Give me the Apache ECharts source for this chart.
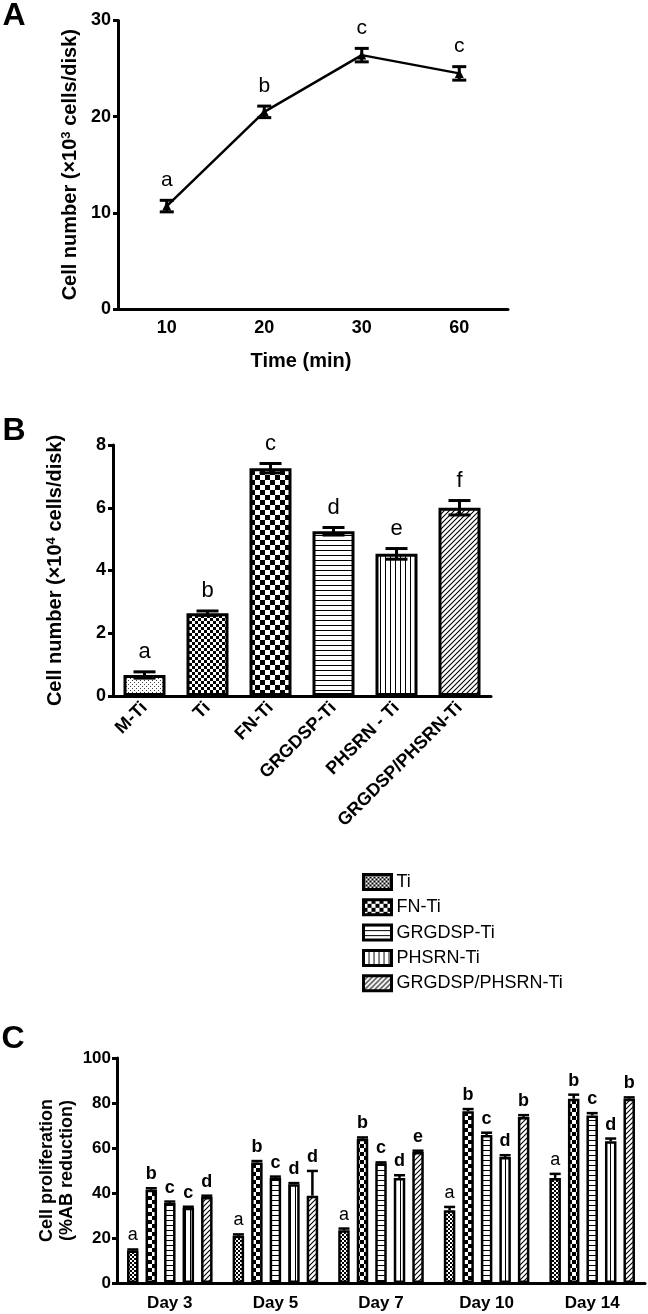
<!DOCTYPE html>
<html><head><meta charset="utf-8">
<script src="https://cdn.jsdelivr.net/npm/echarts@6/dist/echarts.min.js"></script>
<style>html,body{margin:0;padding:0;background:#fff}#divApp{width:648px;height:1314px}</style>
</head><body><div id="divApp"></div>
<script>
// A: attachment vs time
var timeCats = ['10','20','30','60']
var attachVals = [10.7, 20.5, 26.4, 24.5]
var attachErr = [0.6, 0.6, 0.7, 0.7]
var attachLetters = ['a','b','c','c']

// B: attachment per surface
var surfCats = ['M-Ti','Ti','FN-Ti','GRGDSP-Ti','PHSRN - Ti','GRGDSP/PHSRN-Ti']
var surfVals = [0.67, 2.64, 7.26, 5.25, 4.53, 6.0]
var surfErr = [0.1, 0.07, 0.15, 0.12, 0.17, 0.23]
var surfLetters = ['a','b','c','d','e','f']

// C: proliferation per day
var dayCats = ['Day 3','Day 5','Day 7','Day 10','Day 14']
var groupNames = ['Ti','FN-Ti','GRGDSP-Ti','PHSRN-Ti','GRGDSP/PHSRN-Ti']
var profTi = [14.4, 21.0, 23.4, 32.3, 46.7]
var profFN = [41.5, 53.6, 64.1, 76.3, 81.9]
var profGRGDSP = [35.6, 46.8, 53.2, 65.8, 74.5]
var profPHSRN = [33.4, 43.9, 46.7, 56.0, 63.0]
var profBoth = [38.2, 38.8, 58.2, 73.8, 81.9]
var errTi = [0.5, 0.6, 0.8, 1.5, 1.8]
var errFN = [0.6, 0.6, 0.6, 1.0, 1.8]
var errGRGDSP = [0.6, 0.5, 0.4, 1.0, 1.0]
var errPHSRN = [0.5, 0.5, 1.2, 0.8, 1.2]
var errBoth = [0.6, 11.0, 0.6, 0.8, 0.6]
var lettersTi = ['a','a','a','a','a']
var lettersFN = ['b','b','b','b','b']
var lettersGRGDSP = ['c','c','c','c','c']
var lettersPHSRN = ['c','d','d','d','d']
var lettersBoth = ['d','d','e','b','b']

var FONT = "'Liberation Sans', Arial, sans-serif"

//pattern fills
var pat = (w,h,draw)=>{
  var c = document.createElement('canvas'); c.width=w; c.height=h
  var g = c.getContext('2d')
  g.fillStyle='#fff'; g.fillRect(0,0,w,h); g.fillStyle='#000'; g.strokeStyle='#000'
  draw(g)
  return {image:c, repeat:'repeat'}
}
var checker = s=>pat(2*s,2*s,g=>{g.fillRect(0,0,s,s);g.fillRect(s,s,s,s)})
var P_DOTS = pat(4,4,g=>{g.fillStyle='#444';g.fillRect(0,0,1,1);g.fillRect(2,2,1,1)})
var P_FINE = checker(3), P_FINE_C = checker(2)
var P_CHECK = checker(5), P_CHECK_C = checker(4)
var P_HLINE = pat(5,5,g=>g.fillRect(0,0,5,1))
var P_VLINE = pat(5,5,g=>g.fillRect(0,0,1,5))
var P_DIAG = pat(5,5,g=>{g.lineWidth=1.1;g.beginPath();g.moveTo(-1,6);g.lineTo(6,-1);g.moveTo(-1,1);g.lineTo(1,-1);g.moveTo(4,6);g.lineTo(6,4);g.stroke()})

//error bar + letter
var mkErr = (o)=>(params, api)=>{
  var i = params.dataIndex, x0 = api.value(0), v = api.value(1), e = api.value(2)
  var top = api.coord([x0, v+e]), bot = api.coord([x0, o.both ? v-e : v])
  var x = top[0]+(o.dx||0), h = o.cap/2
  var st = {stroke:'#000', lineWidth:o.lw}
  var kids = [
    {type:'line', shape:{x1:x,y1:top[1],x2:x,y2:bot[1]}, style:st},
    {type:'line', shape:{x1:x-h,y1:top[1],x2:x+h,y2:top[1]}, style:st},
    {type:'text', x:x, y:top[1]-o.gap, style:{text:o.letters[i], fill:'#000', font:o.font, align:'center', verticalAlign:'middle'}}
  ]
  if (o.both) kids.push({type:'line', shape:{x1:x-h,y1:bot[1],x2:x+h,y2:bot[1]}, style:st})
  return {type:'group', children:kids}
}
var zip = (a,b)=>a.map((v,i)=>[i,v,b[i]])

var axLine = {lineStyle:{color:'#000', width:3}}
var axTick = {length:5, lineStyle:{color:'#000', width:3}}
var tickLbl = (sz)=>({color:'#000', fontWeight:'bold', fontSize:sz, fontFamily:FONT})
var yName = (sz)=>({color:'#000', fontWeight:'bold', fontSize:sz, fontFamily:FONT, rich:{s:{fontSize:13, fontWeight:'bold', fontFamily:FONT, verticalAlign:'top', padding:[0,0,7,0]}}})

var profSets = [
  [profTi, errTi, lettersTi, P_FINE_C, 'normal'],
  [profFN, errFN, lettersFN, P_CHECK_C, 'bold'],
  [profGRGDSP, errGRGDSP, lettersGRGDSP, P_HLINE, 'bold'],
  [profPHSRN, errPHSRN, lettersPHSRN, P_VLINE, 'bold'],
  [profBoth, errBoth, lettersBoth, P_DIAG, 'bold']
]
var surfFills = [P_DOTS, P_FINE, P_CHECK, P_HLINE, P_VLINE, P_DIAG]

var series = [
  {type:'line', xAxisIndex:0, yAxisIndex:0, data:attachVals, symbol:'triangle', symbolSize:9,
    itemStyle:{color:'#000'}, lineStyle:{color:'#000', width:2.5}, z:3},
  {type:'custom', xAxisIndex:0, yAxisIndex:0, data:zip(attachVals,attachErr), z:4,
    renderItem:mkErr({cap:14, lw:3, both:true, gap:20, letters:attachLetters, font:'21px '+FONT})},
  {type:'bar', xAxisIndex:1, yAxisIndex:1, barWidth:42,
    data:surfVals.map((v,i)=>({value:v, itemStyle:{color:surfFills[i]}})),
    itemStyle:{borderColor:'#000', borderWidth:3}},
  {type:'custom', xAxisIndex:1, yAxisIndex:1, data:zip(surfVals,surfErr), z:4,
    renderItem:mkErr({cap:22, lw:3, both:true, gap:20, letters:surfLetters, font:'22px '+FONT})}
]
profSets.forEach((p,k)=>{
  series.push({type:'bar', name:groupNames[k], xAxisIndex:2, yAxisIndex:2, data:p[0], barWidth:11.5, barGap:'61%',
    itemStyle:{color:p[3], borderColor:'#000', borderWidth:2.5}})
})
profSets.forEach((p,k)=>{
  series.push({type:'custom', xAxisIndex:2, yAxisIndex:2, data:zip(p[0],p[1]), z:4,
    renderItem:mkErr({cap:11, lw:2.5, both:false, dx:(k-2)*18.5, gap:14, letters:p[2], font:p[4]+' 18px '+FONT})})
})

var chart = echarts.init(document.getElementById('divApp'))
chart.setOption({
  animation:false,
  grid:[
    {left:118, top:20.5, width:390, height:288.5},
    {left:113, top:445, width:378, height:251},
    {left:117, top:1058, width:528, height:225}
  ],
  xAxis:[
    {type:'category', gridIndex:0, data:timeCats, axisLine:axLine, axisTick:Object.assign({alignWithLabel:true},axTick),
      axisLabel:Object.assign({margin:10}, tickLbl(18)),
      name:'Time (min)', nameLocation:'middle', nameGap:42,
      nameTextStyle:{color:'#000', fontWeight:'bold', fontSize:20, fontFamily:FONT, padding:[0,24,0,0]}},
    {type:'category', gridIndex:1, data:surfCats, axisLine:axLine, axisTick:Object.assign({alignWithLabel:true},axTick),
      axisLabel:Object.assign({margin:9, rotate:45, interval:0}, tickLbl(18))},
    {type:'category', gridIndex:2, data:dayCats, axisLine:axLine, axisTick:Object.assign({alignWithLabel:true},axTick),
      axisLabel:Object.assign({margin:12, interval:0}, tickLbl(17))}
  ],
  yAxis:[
    {type:'value', gridIndex:0, min:0, max:30, interval:10, axisLine:Object.assign({show:true},axLine), axisTick:Object.assign({show:true},axTick),
      splitLine:{show:false}, axisLabel:Object.assign({margin:7}, tickLbl(18)),
      name:'Cell number (×10{s|3} cells/disk)', nameLocation:'middle', nameRotate:90, nameGap:38, nameTextStyle:yName(20)},
    {type:'value', gridIndex:1, min:0, max:8, interval:2, axisLine:Object.assign({show:true},axLine), axisTick:Object.assign({show:true},axTick),
      splitLine:{show:false}, axisLabel:Object.assign({margin:7}, tickLbl(18)),
      name:'Cell number (×10{s|4} cells/disk)', nameLocation:'middle', nameRotate:90, nameGap:48, nameTextStyle:yName(20)},
    {type:'value', gridIndex:2, min:0, max:100, interval:20, axisLine:Object.assign({show:true},axLine), axisTick:Object.assign({show:true},axTick),
      splitLine:{show:false}, axisLabel:Object.assign({margin:6}, tickLbl(17)),
      name:'Cell proliferation\n(%AB reduction)', nameLocation:'middle', nameRotate:90, nameGap:40, nameMoveOverlap:false,
      nameTextStyle:{color:'#000', fontWeight:'bold', fontSize:18, lineHeight:20, fontFamily:FONT}}
  ],
  legend:{data:groupNames, orient:'vertical', left:357, top:868, itemWidth:28, itemHeight:15, itemGap:7.3,
    selectedMode:false, icon:'rect', itemStyle:{borderColor:'#000', borderWidth:3},
    textStyle:{color:'#000', fontSize:18, lineHeight:17, fontFamily:FONT}},
  graphic:[
    {type:'text', x:14, y:16, style:{text:'A', font:'bold 32px '+FONT, fill:'#000', align:'center', verticalAlign:'middle'}},
    {type:'text', x:14, y:431, style:{text:'B', font:'bold 32px '+FONT, fill:'#000', align:'center', verticalAlign:'middle'}},
    {type:'text', x:13, y:1039, style:{text:'C', font:'bold 32px '+FONT, fill:'#000', align:'center', verticalAlign:'middle'}}
  ],
  series:series
})
</script>
</body></html>
